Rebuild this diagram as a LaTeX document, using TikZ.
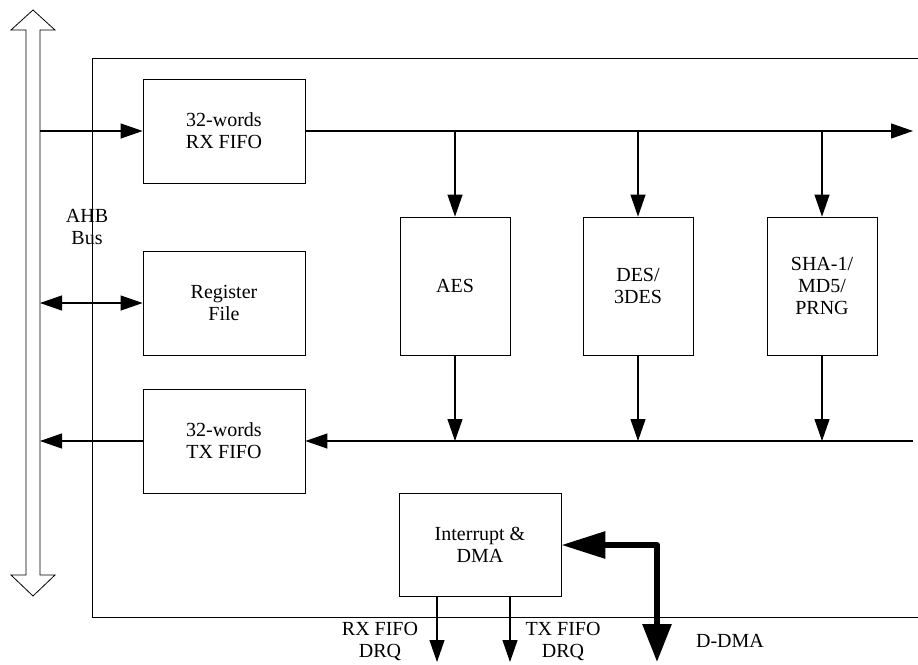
\documentclass[tikz,border=0pt]{standalone}
\usepackage{fontspec}
\setmainfont{Liberation Serif}
\usetikzlibrary{arrows.meta, positioning}

\begin{document}
\begin{tikzpicture}[x=1pt, y=-1pt, line width=1.1pt,
  font=\fontsize{20}{22}\selectfont,
  blk/.style={draw, line width=0.8pt, align=center, inner sep=0pt},
  fifo/.style={blk, minimum width=162pt, minimum height=104pt},
  eng/.style={blk, minimum width=110pt, minimum height=138pt},
  arr/.style={-{Triangle[length=22pt,width=15pt]}},
  biarr/.style={{Triangle[length=22pt,width=15pt]}-{Triangle[length=22pt,width=15pt]}},
  fat/.style={line width=6pt, line join=round, {Triangle[length=44pt,width=26pt]}-{Triangle[length=38pt,width=28pt]}}]
\useasboundingbox (0,0) rectangle (918,664);

% module frame and AHB bus
\draw[line width=0.8pt] (92,58) rectangle (940,617);
\draw[line width=0.8pt] (26,30) -- (11,30) -- (33,10) -- (55,30) -- (40,30) -- (40,575)
  -- (55,575) -- (33,596) -- (11,575) -- (26,575) -- cycle;
\node[align=center] (ahb) at (87,227) {AHB\\Bus};
\coordinate (busedge) at (40,0);

% blocks
\node[fifo] (rx) at (224,131) {32-words\\RX FIFO};
\node[fifo] (reg) at (224,303) {Register\\File};
\node[fifo] (tx) at (224,441) {32-words\\TX FIFO};
\node[eng] (aes) at (455,286) {AES};
\node[eng] (des) at (638,286) {DES/\\3DES};
\node[eng] (sha) at (822,286) {SHA-1/\\MD5/\\PRNG};
\node[blk, minimum width=162pt, minimum height=103pt] (irq) at (480,545) {Interrupt \&\\DMA};

\coordinate (rxend) at (913,131);
\coordinate (txend) at (913,441);

% data paths
\draw[arr] (busedge |- rx.west) -- (rx.west);
\draw[arr] (rx.east) -- (rxend);
\draw[biarr] (busedge |- reg.west) -- (reg.west);
\draw[arr] (tx.west) -- (busedge |- tx.west);
\draw[arr] (txend) -- (tx.east);
\foreach \e in {aes,des,sha} {
  \draw[arr] (\e.north |- rx.east) -- (\e.north);
  \draw[arr] (\e.south) -- (\e.south |- tx.east);
}

% DMA requests
\coordinate (rxreq) at (437,662);
\coordinate (txreq) at (510,662);
\coordinate (ddmaend) at (657,662);
\draw[arr] (irq.south -| rxreq) -- (rxreq);
\draw[arr] (irq.south -| txreq) -- (txreq);
\draw[fat] (irq.east) -| (ddmaend);
\node[align=center] (rxdrq) at (380,641) {RX FIFO\\DRQ};
\node[align=center] (txdrq) at (563,641) {TX FIFO\\DRQ};
\node (ddma) at (730,641) {D-DMA};
\end{tikzpicture}
\end{document}
